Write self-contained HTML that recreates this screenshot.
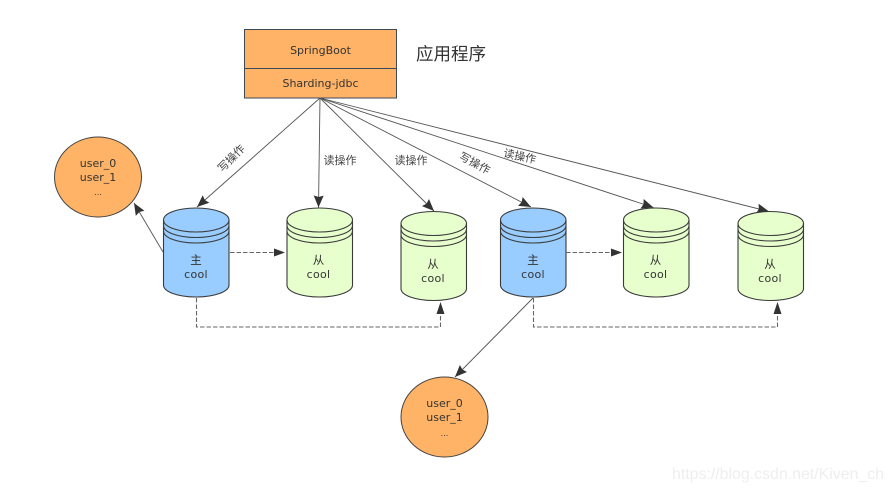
<!DOCTYPE html>
<html>
<head>
<meta charset="utf-8">
<style>
html,body{margin:0;padding:0;background:#fff}
svg{display:block}
text{font-family:"DejaVu Sans","Noto Sans CJK SC",sans-serif;fill:#333;text-anchor:middle}
.c{font-family:"Noto Sans CJK SC","WenQuanYi Zen Hei",sans-serif}
.l{font-size:11px;fill:#444}
.line{fill:none;stroke:#555;stroke-width:.9;marker-end:url(#ah)}
.dash{fill:none;stroke:#666;stroke-width:1.1;stroke-dasharray:4.500 2}
.arrow{fill:#333;stroke:none}
.arc{fill:none;stroke:#3a3a3a;stroke-width:1.1}
.cool{font-size:11px;letter-spacing:.3px}
.u{font-size:11px}
</style>
</head>
<body>
<svg width="891" height="492" viewBox="0 0 891 492" xmlns="http://www.w3.org/2000/svg">
<defs>
<marker id="ah" markerUnits="userSpaceOnUse" markerWidth="13" markerHeight="11" refX="12" refY="5" orient="auto" overflow="visible">
<path d="M0 0 L12 5 L0 10 L1.500 5 Z" fill="#333"/>
</marker>
<g id="cylBody">
<path class="arc" d="M0 12 V77 C0 84 15 89 32.5 89 C50 89 65.500 84 65.500 77 V12"/>
<path class="arc" d="M0 12 C0 5 15 0 32.5 0 C50 0 65.500 5 65.500 12 C65.500 19 50 24 32.5 24 C15 24 0 19 0 12Z"/>
<path class="arc" d="M0 17.500 C0 24.500 15 29.500 32.5 29.500 C50 29.500 65.500 24.500 65.500 17.500"/>
<path class="arc" d="M0 23 C0 30 15 35 32.5 35 C50 35 65.500 30 65.500 23"/>
</g>
</defs>
<rect width="891" height="492" fill="#fff"/>

<rect x="244.500" y="29.500" width="152" height="68.500" fill="#ffb366" stroke="#3f4a58" stroke-width="1"/>
<line x1="244.500" y1="68.500" x2="396.500" y2="68.500" stroke="#3f4a58" stroke-width="1"/>
<text x="320.500" y="54" font-size="11">SpringBoot</text>
<text x="320.500" y="87" font-size="11">Sharding-jdbc</text>
<text class="c" x="451" y="60" font-size="17.500">应用程序</text>

<path class="line" d="M320 98 L197 207"/>
<path class="line" d="M320 98 L318.500 207.500"/>
<path class="line" d="M320 98 L434 211"/>
<path class="line" d="M320 98 L531 207"/>
<path class="line" d="M320 98 L653.500 207.500"/>
<path class="line" d="M320 98 L769 211.500"/>
<path class="line" d="M163 252 L134 203"/>
<path class="line" d="M533 298 L455 377"/>

<text class="c l" transform="translate(234 161) rotate(-45)" x="0" y="0">写操作</text>
<text class="c l" x="340" y="164">读操作</text>
<text class="c l" x="411" y="164">读操作</text>
<text class="c l" transform="translate(473 166.500) rotate(28)" x="0" y="0">写操作</text>
<text class="c l" transform="translate(519 160) rotate(12)" x="0" y="0">读操作</text>

<ellipse cx="98" cy="177" rx="43.500" ry="40" fill="#ffb366" stroke="#444" stroke-width="1"/>
<text class="u" x="98" y="167">user_0</text>
<text class="u" x="98" y="181">user_1</text>
<text x="98" y="195" font-size="8" fill="#777">...</text>

<ellipse cx="444.500" cy="417" rx="43.500" ry="40" fill="#ffb366" stroke="#444" stroke-width="1"/>
<text class="u" x="444.500" y="407">user_0</text>
<text class="u" x="444.500" y="421">user_1</text>
<text x="444.500" y="436" font-size="8" fill="#777">...</text>

<g transform="translate(163.500 208)"><path d="M0 12 V77 C0 84 15 89 32.5 89 C50 89 65.500 84 65.500 77 V12 C65.500 5 50 0 32.500 0 C15 0 0 5 0 12Z" fill="#99ccff"/><use href="#cylBody"/></g>
<text class="c" x="196" y="264" font-size="11.500">主</text>
<text class="cool" x="196" y="278">cool</text>

<g transform="translate(287 208)"><path d="M0 12 V77 C0 84 15 89 32.5 89 C50 89 65.500 84 65.500 77 V12 C65.500 5 50 0 32.500 0 C15 0 0 5 0 12Z" fill="#e6ffcc"/><use href="#cylBody"/></g>
<text class="c" x="318.500" y="264" font-size="11.500">从</text>
<text class="cool" x="318.500" y="278">cool</text>

<g transform="translate(401 211.500)"><path d="M0 12 V77 C0 84 15 89 32.5 89 C50 89 65.500 84 65.500 77 V12 C65.500 5 50 0 32.500 0 C15 0 0 5 0 12Z" fill="#e6ffcc"/><use href="#cylBody"/></g>
<text class="c" x="433" y="268" font-size="11.500">从</text>
<text class="cool" x="433" y="282">cool</text>

<g transform="translate(500.500 208)"><path d="M0 12 V77 C0 84 15 89 32.5 89 C50 89 65.500 84 65.500 77 V12 C65.500 5 50 0 32.500 0 C15 0 0 5 0 12Z" fill="#99ccff"/><use href="#cylBody"/></g>
<text class="c" x="533" y="264" font-size="11.500">主</text>
<text class="cool" x="533" y="278">cool</text>

<g transform="translate(623.500 208)"><path d="M0 12 V77 C0 84 15 89 32.5 89 C50 89 65.500 84 65.500 77 V12 C65.500 5 50 0 32.500 0 C15 0 0 5 0 12Z" fill="#e6ffcc"/><use href="#cylBody"/></g>
<text class="c" x="655.500" y="264" font-size="11.500">从</text>
<text class="cool" x="655.500" y="278">cool</text>

<g transform="translate(738 211.500)"><path d="M0 12 V77 C0 84 15 89 32.5 89 C50 89 65.500 84 65.500 77 V12 C65.500 5 50 0 32.500 0 C15 0 0 5 0 12Z" fill="#e6ffcc"/><use href="#cylBody"/></g>
<text class="c" x="770" y="268" font-size="11.500">从</text>
<text class="cool" x="770" y="282">cool</text>

<path class="dash" d="M230 252.500 H274"/>
<path class="arrow" d="M285 252.500 L274 248.500 V256.500 Z"/>
<path class="dash" d="M566 252.500 H611"/>
<path class="arrow" d="M622 252.500 L611 248.500 V256.500 Z"/>
<path class="dash" d="M196.500 298 V327 H440.500 V314"/>
<path class="arrow" d="M440.500 302 L436.500 314 H444.500 Z"/>
<path class="dash" d="M533.500 298 V327 H777.500 V314"/>
<path class="arrow" d="M777.500 302 L773.500 314 H781.500 Z"/>

<text x="778" y="479" font-size="15.900" style="font-family:'Liberation Sans',sans-serif;fill:#eeeeee">https://blog.csdn.net/Kiven_ch</text>
</svg>
</body>
</html>
